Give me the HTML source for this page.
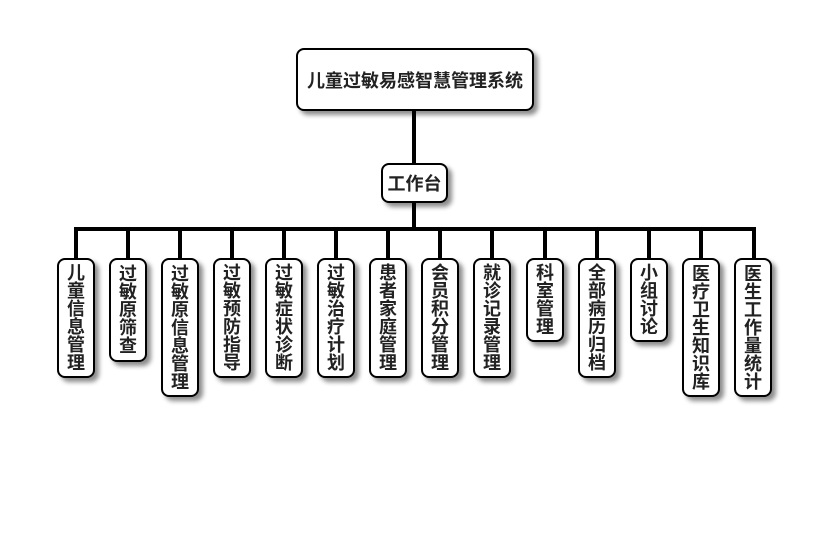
<!DOCTYPE html>
<html><head><meta charset="utf-8"><style>
body{margin:0;width:830px;height:560px;background:#fff;position:relative;overflow:hidden;font-family:"Liberation Sans","Noto Sans CJK SC",sans-serif;}
.b{position:absolute;background:#fff;border:2px solid #000;border-radius:8px;box-shadow:4px 4px 5px rgba(0,0,0,0.45);box-sizing:border-box;font-weight:bold;color:#222;display:flex;align-items:center;justify-content:center;text-align:center}
.v{width:38px;top:258px;font-size:18px;line-height:18px;padding:0 8px;word-break:break-all}
.l{position:absolute;background:#000}
</style></head><body>
<div class="l" style="left:412px;top:110px;width:4px;height:54px"></div>
<div class="l" style="left:412px;top:202px;width:4px;height:28px"></div>
<div class="l" style="left:74px;top:227px;width:682px;height:4px"></div>
<div class="l" style="left:74px;top:227px;width:4px;height:32px"></div>
<div class="l" style="left:126px;top:227px;width:4px;height:32px"></div>
<div class="l" style="left:178px;top:227px;width:4px;height:32px"></div>
<div class="l" style="left:230px;top:227px;width:4px;height:32px"></div>
<div class="l" style="left:282px;top:227px;width:4px;height:32px"></div>
<div class="l" style="left:334px;top:227px;width:4px;height:32px"></div>
<div class="l" style="left:386px;top:227px;width:4px;height:32px"></div>
<div class="l" style="left:438px;top:227px;width:4px;height:32px"></div>
<div class="l" style="left:490px;top:227px;width:4px;height:32px"></div>
<div class="l" style="left:543px;top:227px;width:4px;height:32px"></div>
<div class="l" style="left:595px;top:227px;width:4px;height:32px"></div>
<div class="l" style="left:647px;top:227px;width:4px;height:32px"></div>
<div class="l" style="left:699px;top:227px;width:4px;height:32px"></div>
<div class="l" style="left:752px;top:227px;width:4px;height:32px"></div>
<div class="b" style="left:296px;top:48px;width:238px;height:63px;font-size:18px">儿童过敏易感智慧管理系统</div>
<div class="b" style="left:381px;top:163px;width:67px;height:40px;font-size:18px">工作台</div>
<div class="b v" style="left:57px;height:120px">儿童信息管理</div>
<div class="b v" style="left:109px;height:104px">过敏原筛查</div>
<div class="b v" style="left:161px;height:139px">过敏原信息管理</div>
<div class="b v" style="left:213px;height:120px">过敏预防指导</div>
<div class="b v" style="left:265px;height:120px">过敏症状诊断</div>
<div class="b v" style="left:317px;height:120px">过敏治疗计划</div>
<div class="b v" style="left:369px;height:120px">患者家庭管理</div>
<div class="b v" style="left:421px;height:120px">会员积分管理</div>
<div class="b v" style="left:473px;height:120px">就诊记录管理</div>
<div class="b v" style="left:526px;height:84px">科室管理</div>
<div class="b v" style="left:578px;height:120px">全部病历归档</div>
<div class="b v" style="left:630px;height:84px">小组讨论</div>
<div class="b v" style="left:682px;height:139px">医疗卫生知识库</div>
<div class="b v" style="left:734px;height:139px">医生工作量统计</div>
</body></html>
